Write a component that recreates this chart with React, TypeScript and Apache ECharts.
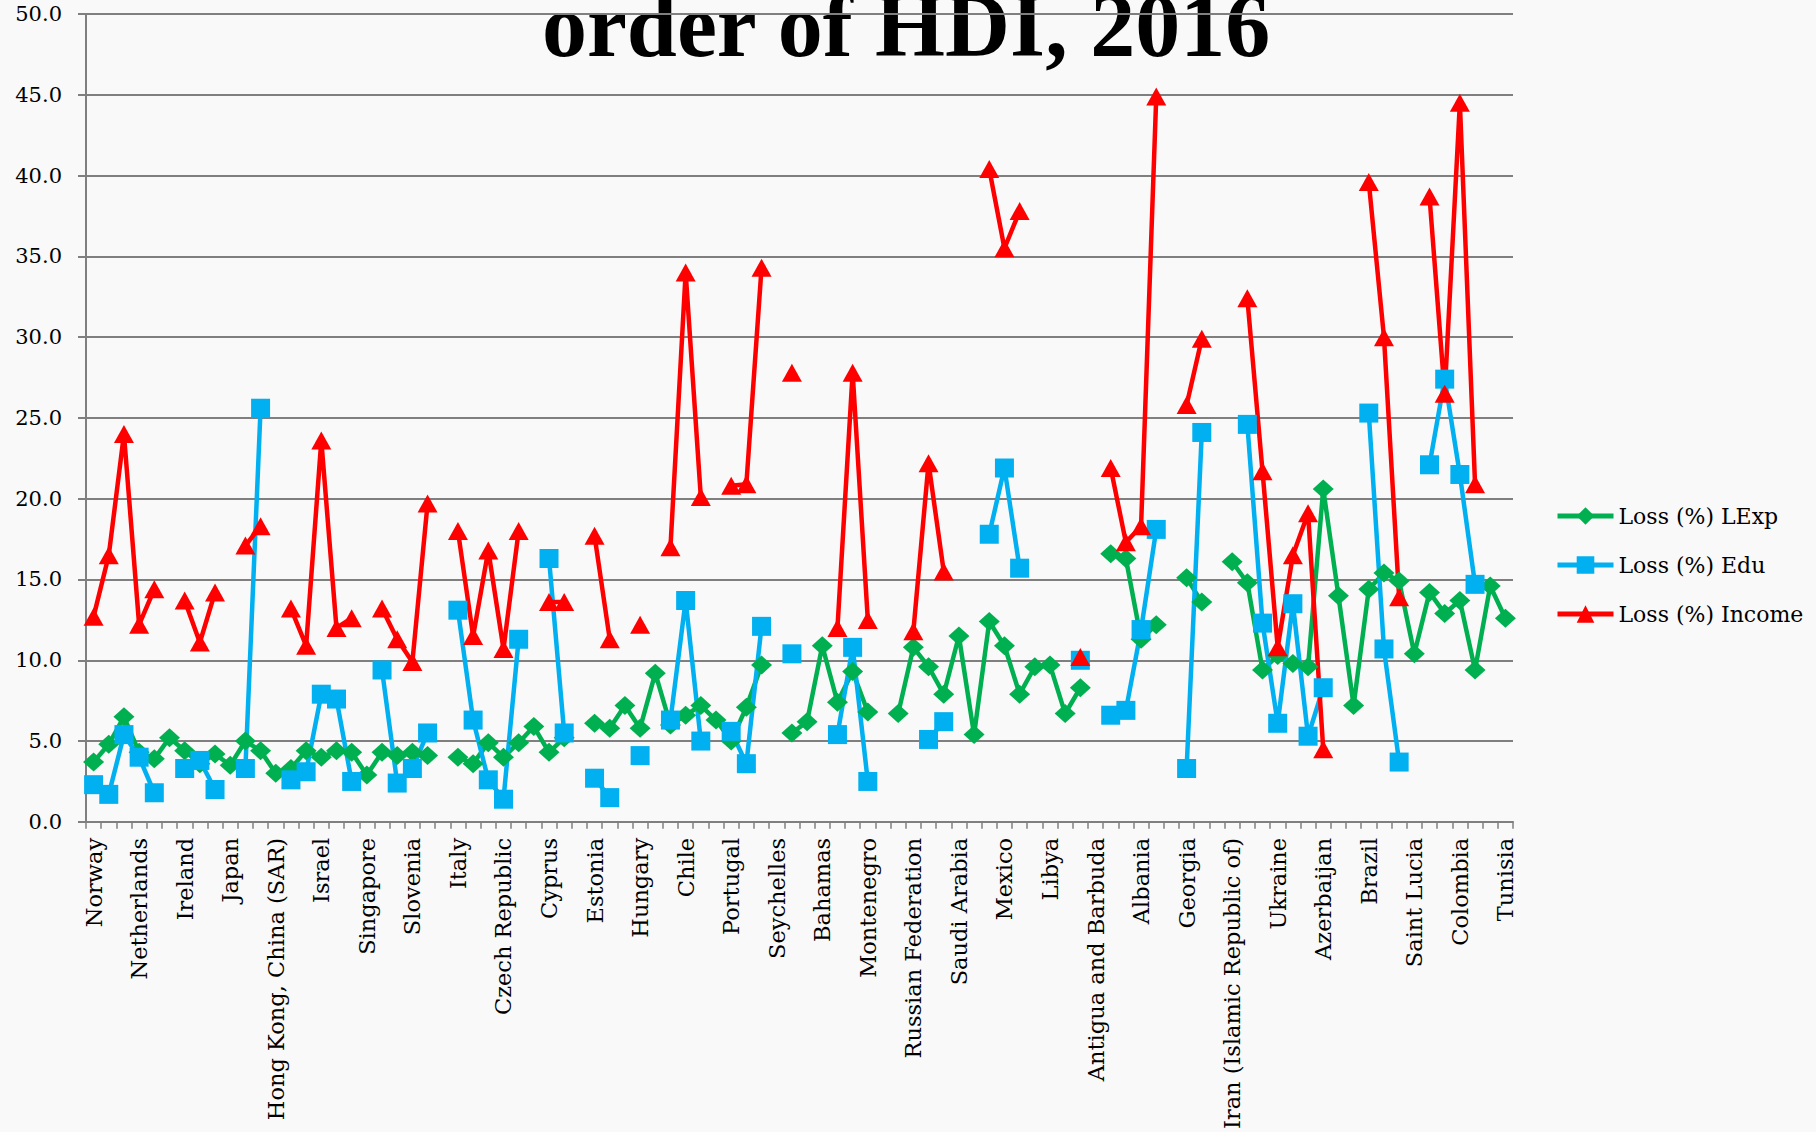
import React, { useEffect, useRef } from "react";
import * as echarts from "echarts";

// Every third country is labelled on the axis; the others are unlabelled.
const labelledCountries = [
  "Norway", "Netherlands", "Ireland", "Japan", "Hong Kong, China (SAR)", "Israel",
  "Singapore", "Slovenia", "Italy", "Czech Republic", "Cyprus", "Estonia",
  "Hungary", "Chile", "Portugal", "Seychelles", "Bahamas", "Montenegro",
  "Russian Federation", "Saudi Arabia", "Mexico", "Libya", "Antigua and Barbuda",
  "Albania", "Georgia", "Iran (Islamic Republic of)", "Ukraine", "Azerbaijan",
  "Brazil", "Saint Lucia", "Colombia", "Tunisia",
];
const categoryCount = 94;
const categories: string[] = Array.from({ length: categoryCount }, (_, i) =>
  i % 3 === 0 ? labelledCountries[i / 3] : ""
);

const yTicks = [0, 5, 10, 15, 20, 25, 30, 35, 40, 45, 50];

const lossLExp: (number | null)[] = [
  3.7, 4.8, 6.5, 4.3, 3.9, 5.2, 4.4, 3.6, 4.2, 3.5,
  5.0, 4.4, 3.0, 3.3, 4.4, 4.0, 4.4, 4.3, 2.9, 4.3,
  4.1, 4.3, 4.1, null, 4.0, 3.6, 4.9, 4.0, 4.9, 5.9,
  4.3, 5.2, null, 6.1, 5.8, 7.2, 5.8, 9.2, 6.0, 6.6,
  7.2, 6.3, 5.0, 7.1, 9.7, null, 5.5, 6.2, 10.9, 7.4,
  9.3, 6.8, null, 6.7, 10.8, 9.6, 7.9, 11.5, 5.4, 12.4,
  10.9, 7.9, 9.6, 9.7, 6.7, 8.3, null, 16.6, 16.3, 11.3,
  12.2, null, 15.1, 13.6, null, 16.1, 14.8, 9.4, 10.3, 9.8,
  9.6, 20.6, 14.0, 7.2, 14.4, 15.4, 14.9, 10.4, 14.2, 12.9,
  13.7, 9.4, 14.6, 12.6,
];

const lossEdu: (number | null)[] = [
  2.3, 1.7, 5.4, 4.0, 1.8, null, 3.3, 3.8, 2.0, null,
  3.3, 25.6, null, 2.6, 3.1, 7.9, 7.6, 2.5, null, 9.4,
  2.4, 3.3, 5.5, null, 13.1, 6.3, 2.6, 1.4, 11.3, null,
  16.3, 5.5, null, 2.7, 1.5, null, 4.1, null, 6.3, 13.7,
  5.0, null, 5.6, 3.6, 12.1, null, 10.4, null, null, 5.4,
  10.8, 2.5, null, null, null, 5.1, 6.2, null, null, 17.8,
  21.9, 15.7, null, null, null, 10.0, null, 6.6, 6.9, 11.9,
  18.1, null, 3.3, 24.1, null, null, 24.6, 12.3, 6.1, 13.5,
  5.3, 8.3, null, null, 25.3, 10.7, 3.7, null, 22.1, 27.4,
  21.5, 14.7, null, null,
];

const lossIncome: (number | null)[] = [
  12.7, 16.5, 24.0, 12.2, 14.4, null, 13.7, 11.1, 14.2, null,
  17.1, 18.3, null, 13.2, 10.9, 23.6, 12.0, 12.6, null, 13.2,
  11.3, 9.9, 19.7, null, 18.0, 11.5, 16.8, 10.7, 18.0, null,
  13.6, 13.6, null, 17.7, 11.3, null, 12.2, null, 17.0, 34.0,
  20.1, null, 20.8, 20.9, 34.3, null, 27.8, null, null, 12.0,
  27.8, 12.5, null, null, 11.8, 22.2, 15.5, null, null, 40.4,
  35.5, 37.8, null, null, null, 10.2, null, 21.9, 17.3, 18.3,
  44.9, null, 25.8, 29.9, null, null, 32.4, 21.7, 10.8, 16.5,
  19.1, 4.5, null, null, 39.6, 30.0, 13.9, null, 38.7, 26.5,
  44.5, 20.9, null, null,
];

const seriesNames = ["Loss (%) LExp", "Loss (%) Edu", "Loss (%) Income"];
const titleText = "order of HDI, 2016";

const GREEN = "#00b050";
const BLUE = "#00b0f0";
const RED = "#ff0000";
const GRID = "#7f7f7f";
const SERIF = '"DejaVu Serif", serif';

export default function App() {
  const ref = useRef<HTMLDivElement>(null);

  useEffect(() => {
    if (!ref.current) return;
    const chart = echarts.init(ref.current, null, { renderer: "svg" });

    const lineSeries = (
      name: string,
      data: (number | null)[],
      color: string,
      symbol: string,
      symbolSize: number | number[]
    ) => ({
      name,
      type: "line",
      data,
      symbol,
      symbolSize,
      showAllSymbol: true,
      connectNulls: false,
      itemStyle: { color },
      lineStyle: { color, width: 4.5 },
      emphasis: { disabled: true },
    });

    chart.setOption({
      animation: false,
      backgroundColor: "#f9f9f9",
      grid: { left: 86, right: 303, top: 14, bottom: 310, containLabel: false },
      graphic: [
        {
          type: "text",
          x: 906,
          y: 25,
          style: {
            text: titleText,
            font: 'bold 90px "Liberation Serif", serif',
            fill: "#000",
            align: "center",
            verticalAlign: "middle",
            textAlign: "center",
            textVerticalAlign: "middle",
          },
        },
      ],
      legend: {
        orient: "vertical",
        left: 1550,
        top: 500,
        itemWidth: 56,
        itemHeight: 22,
        itemGap: 27,
        data: seriesNames,
        lineStyle: { width: 5 },
        textStyle: { fontFamily: SERIF, fontSize: 22, color: "#000" },
      },
      xAxis: {
        type: "category",
        data: categories,
        boundaryGap: true,
        axisLine: { show: true, lineStyle: { color: GRID, width: 2 } },
        axisTick: { show: true, interval: 0, length: 7, lineStyle: { color: GRID, width: 1.5 } },
        axisLabel: {
          interval: 0,
          rotate: 90,
          margin: 16,
          fontFamily: SERIF,
          fontSize: 22.5,
          color: "#000",
        },
        splitLine: { show: false },
      },
      yAxis: {
        type: "value",
        min: yTicks[0],
        max: yTicks[yTicks.length - 1],
        interval: yTicks[1] - yTicks[0],
        axisLine: { show: true, lineStyle: { color: GRID, width: 2 } },
        axisTick: { show: true, length: 8, lineStyle: { color: GRID, width: 2 } },
        axisLabel: {
          margin: 24,
          fontFamily: SERIF,
          fontSize: 21,
          color: "#000",
          formatter: (v: number) => v.toFixed(1),
        },
        splitLine: { show: true, lineStyle: { color: GRID, width: 2 } },
      },
      series: [
        lineSeries(seriesNames[0], lossLExp, GREEN, "diamond", [21, 19]),
        lineSeries(seriesNames[1], lossEdu, BLUE, "rect", 19),
        lineSeries(seriesNames[2], lossIncome, RED, "triangle", [20, 18]),
      ],
    });

    return () => chart.dispose();
  }, []);

  return (
    <div
      ref={ref}
      style={{ position: "absolute", left: 0, top: 0, width: 1816, height: 1132 }}
    />
  );
}
